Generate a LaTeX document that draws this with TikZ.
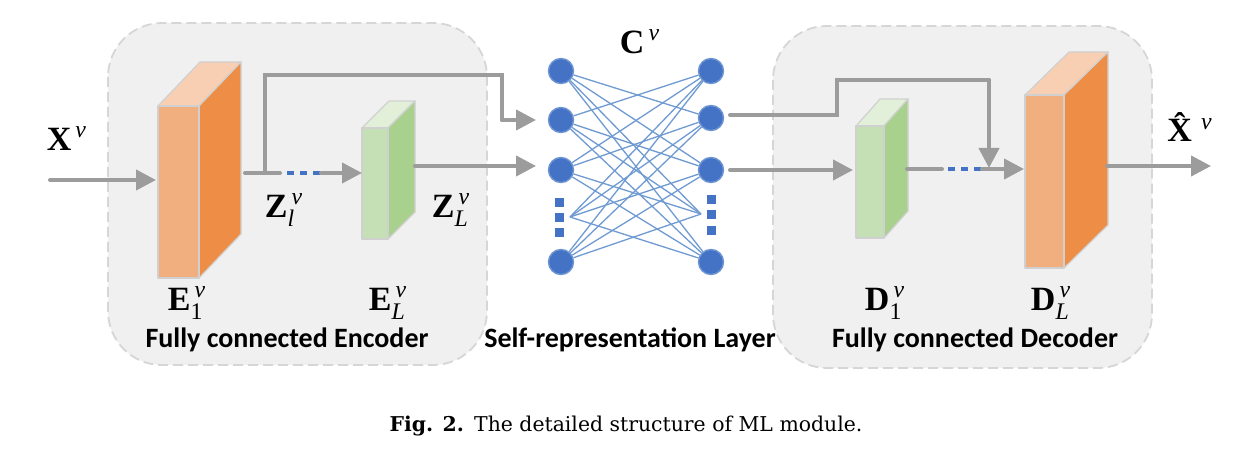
\documentclass[tikz,border=0pt]{standalone}
\usepackage{amsmath}
\usepackage{fontspec}
\setmainfont{Liberation Serif}
\newfontfamily\carlito{Carlito}
\newfontfamily\capfont{DejaVu Serif}
\usetikzlibrary{arrows.meta}
\definecolor{garrow}{HTML}{9C9C9C}
\definecolor{nblue}{HTML}{4472C4}
\definecolor{nedge}{HTML}{6D94D3}
\definecolor{lblue}{HTML}{6F9BD2}
\definecolor{boxfill}{HTML}{F0F0F0}
\definecolor{boxedge}{HTML}{D6D6D6}
\definecolor{ofront}{HTML}{F1AE7E}
\definecolor{oside}{HTML}{EE8D46}
\definecolor{otop}{HTML}{F8CFB3}
\definecolor{gfront}{HTML}{C5E0B4}
\definecolor{gside}{HTML}{A9D18E}
\definecolor{gtop}{HTML}{E2F0D9}
\definecolor{facedge}{HTML}{D0D0D0}
\newcommand\cuboid[9]{%
  \filldraw[fill=#9,draw=facedge,line width=0.6pt,line join=round] (#1,#2) -- (#3,#2) -- ({#3+#5},{#2-#6}) -- ({#1+#5},{#2-#6}) -- cycle;
  \filldraw[fill=#8,draw=facedge,line width=0.6pt,line join=round] (#3,#2) -- ({#3+#5},{#2-#6}) -- ({#3+#5},{#4-#6}) -- (#3,#4) -- cycle;
  \filldraw[fill=#7,draw=facedge,line width=0.6pt,line join=round] (#1,#2) rectangle (#3,#4);
}
\newcommand\vsup{\textit{v}}
\newcommand\mlab[2]{$\textbf{#1}_{#2}^{\,\vsup}$}
\begin{document}
\begin{tikzpicture}[x=0.5pt,y=-0.5pt,
  gline/.style={draw=garrow,line width=2pt,line cap=round},
  garr/.style={gline,-{Triangle[length=10pt,width=10pt]}},
  bdash/.style={draw=nblue,line width=2pt,dash pattern=on 3.5pt off 3pt},
  nn/.style={circle,fill=nblue,draw=nedge,line width=0.7pt,minimum size=12.5pt,inner sep=0pt},
  sq/.style={rectangle,fill=nblue,minimum size=4.5pt,inner sep=0pt},
  conn/.style={draw=lblue,line width=0.65pt},
  group/.style={fill=boxfill,draw=boxedge,dash pattern=on 5pt off 2.5pt,rounded corners=27pt,line width=0.9pt},
  lab/.style={font=\fontsize{17}{19}\selectfont,inner sep=0pt},
  ttl/.style={font=\carlito\bfseries\fontsize{14}{16}\selectfont,inner sep=0pt},
  capf/.style={font=\capfont\fontsize{10.2}{12}\selectfont,inner sep=0pt}]
\useasboundingbox (0,0) rectangle (1248,454);
\fill[white] (0,0) rectangle (1248,454);
% group boxes
\draw[group] (108,23) rectangle (487,365);
\draw[group] (773,26) rectangle (1152,368);
% blocks
\cuboid{158}{106}{199}{278}{42}{44}{ofront}{oside}{otop}
\cuboid{362}{128}{388}{239}{27}{27}{gfront}{gside}{gtop}
\cuboid{856}{126}{884}{238}{24}{27}{gfront}{gside}{gtop}
\cuboid{1025}{95}{1064}{268}{44}{43}{ofront}{oside}{otop}
% coordinates
\coordinate (xin) at (50,180);
\coordinate (e1in) at (156,180);
\coordinate (e1out) at (245,173);
\coordinate (zsplit) at (265,173);
\coordinate (zdA) at (280,173);
\coordinate (zdB) at (287,173);
\coordinate (zdC) at (321,173);
\coordinate (elin) at (362,173);
\coordinate (elout) at (415,166);
\coordinate (skA) at (265,75);
\coordinate (skB) at (502,75);
\coordinate (skC) at (502,120);
\coordinate (l2in) at (536,120);
\coordinate (l3in) at (536,166);
\coordinate (r2out) at (730,115);
\coordinate (dkA) at (837,115);
\coordinate (dkB) at (837,80);
\coordinate (dkC) at (989,80);
\coordinate (dkD) at (989,168);
\coordinate (r3out) at (730,170);
\coordinate (d1in) at (853,170);
\coordinate (d1out) at (907,169);
\coordinate (ddA) at (942,169);
\coordinate (ddB) at (948,169);
\coordinate (ddC) at (982,169);
\coordinate (dlin) at (1024,169);
\coordinate (dlout) at (1107,166);
\coordinate (xout) at (1211,166);
% encoder connectors
\draw[garr] (xin) -- (e1in);
\draw[gline] (e1out) -- (zdA);
\draw[bdash] (zdB) -- (zdC);
\draw[garr] (zdC) -- (elin);
\draw[gline] (zsplit) -- (skA) -- (skB) -- (skC);
\draw[garr] (skC) -- (l2in);
\draw[garr] (elout) -- (l3in);
% self-representation layer
\node[nn] (l1) at (561,71) {};
\node[nn] (l2) at (561,120) {};
\node[nn] (l3) at (561,170) {};
\node[nn] (l4) at (561,262) {};
\node[nn] (r1) at (711,71) {};
\node[nn] (r2) at (711,118) {};
\node[nn] (r3) at (711,170) {};
\node[nn] (r4) at (711,262) {};
\node[sq] (ls1) at (559,203) {};
\node[sq] (ls2) at (559,218) {};
\node[sq] (ls3) at (559,233) {};
\node[sq] (rs1) at (711,200) {};
\node[sq] (rs2) at (711,215) {};
\node[sq] (rs3) at (711,231) {};
\coordinate (ld) at (570,217);
\coordinate (rd) at (701,214);
\foreach \i/\a in {1/l1,2/l2,3/l3,4/ld,5/l4}{
  \foreach \j/\b in {1/r1,2/r2,3/r3,4/rd,5/r4}{
    \ifnum\i=\j\else\draw[conn] (\a) -- (\b);\fi
  }
}
% decoder connectors
\draw[gline] (r2out) -- (dkA) -- (dkB) -- (dkC);
\draw[garr] (r3out) -- (d1in);
\draw[gline] (d1out) -- (ddA);
\draw[bdash] (ddB) -- (ddC);
\draw[garr] (ddC) -- (dlin);
\draw[garr] (dkC) -- (dkD);
\draw[garr] (dlout) -- (xout);
% labels
\node[lab] (lx) at (67,139) {$\textbf{X}^{\,\vsup}$};
\node[lab] (lzl) at (284,210) {\mlab{Z}{\textit{l}}};
\node[lab] (lzL) at (451,210) {\mlab{Z}{\textit{L}}};
\node[lab] (le1) at (187,303) {\mlab{E}{\textrm{1}}};
\node[lab] (leL) at (388,303) {\mlab{E}{\textit{L}}};
\node[lab] (lc) at (640,42) {$\textbf{C}^{\,\vsup}$};
\node[lab] (ld1) at (885,303) {\mlab{D}{\textrm{1}}};
\node[lab] (ldL) at (1051,303) {\mlab{D}{\textit{L}}};
\node[lab] (lxh) at (1190,127) {\textbf{\^{X}}$^{\,\vsup}$};
% titles
\node[ttl] (tenc) at (287,340) {Fully connected Encoder};
\node[ttl] (tsr) at (630,340) {Self-representation Layer};
\node[ttl] (tdec) at (975,340) {Fully connected Decoder};
% caption
\node[capf] (cap) at (626,426) {\textbf{Fig. 2.}\enspace The detailed structure of ML module.};
\end{tikzpicture}
\end{document}
